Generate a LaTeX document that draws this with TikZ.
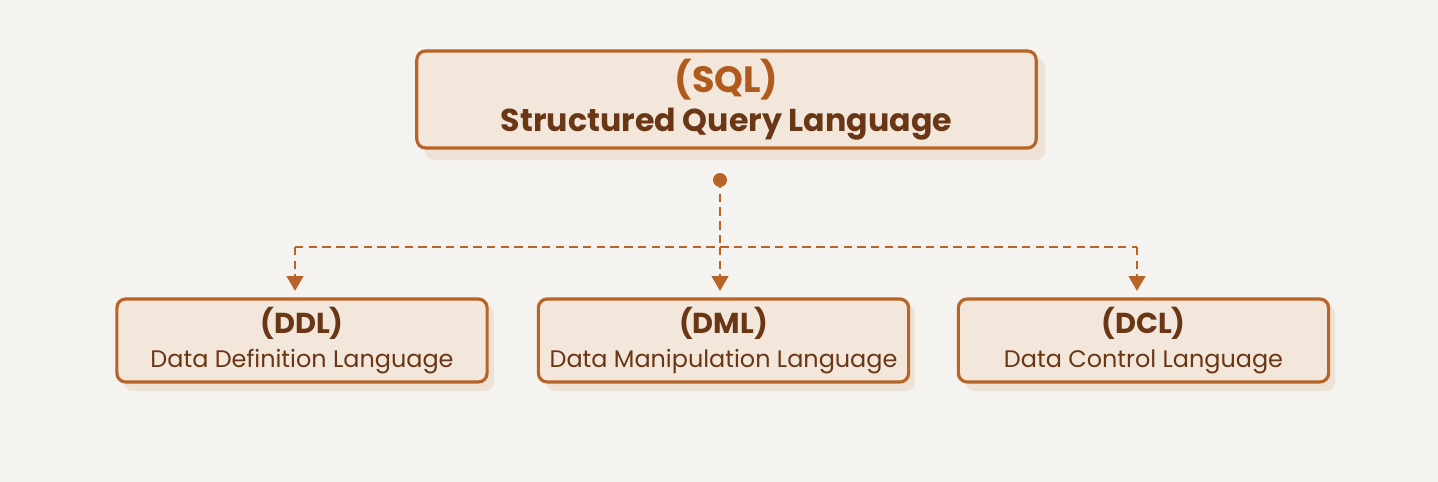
\documentclass[tikz,border=0pt]{standalone}
\usepackage{fontspec}
\setmainfont{Poppins}
\usetikzlibrary{arrows.meta,positioning}
\definecolor{paper}{RGB}{245,243,240}
\definecolor{boxfill}{RGB}{243,230,218}
\definecolor{boxshade}{RGB}{238,226,214}
\definecolor{rim}{RGB}{183,100,40}
\definecolor{abbr}{RGB}{176,90,30}
\definecolor{inkbrown}{RGB}{105,55,22}

\begin{document}
\begin{tikzpicture}[x=0.01cm,y=-0.01cm,
  langbox/.style={draw=rim,line width=0.9pt,rounded corners=2.5pt,fill=boxfill,align=center,
    inner sep=0pt},
  mainbox/.style={langbox,minimum width=6.19cm,minimum height=0.97cm},
  subbox/.style={langbox,minimum width=3.70cm,minimum height=0.83cm},
  link/.style={draw=rim,line width=0.85pt,dash pattern=on 2.4pt off 1.5pt},
  tip/.style={-{Triangle[length=4.2pt,width=4.6pt]}}]
% background and bounds
\fill[paper] (0,0) rectangle (1438,482);
\useasboundingbox (0,0) rectangle (1438,482);
% soft shadows
\fill[boxshade,rounded corners=2.5pt] (425,58) rectangle (1045,160);
\fill[boxshade,rounded corners=2.5pt] (124,305) rectangle (494,391);
\fill[boxshade,rounded corners=2.5pt] (546,305) rectangle (915,391);
\fill[boxshade,rounded corners=2.5pt] (966,305) rectangle (1335,391);
%
\node (sql) [mainbox] at (726.5,99.5)
  {\fontsize{10.4pt}{11pt}\selectfont\bfseries\textcolor{abbr}{(SQL)}\\[-1pt]
   \fontsize{9pt}{10pt}\selectfont\bfseries\textcolor{inkbrown}{Structured Query Language}};
\node (ddl) [subbox] at (302,340.5)
  {\fontsize{8.2pt}{8pt}\selectfont\bfseries\textcolor{inkbrown}{(DDL)}\\[-2.5pt]
   \fontsize{6.8pt}{8pt}\selectfont\textcolor{inkbrown}{Data Definition Language}};
\node (dml) [subbox] at (723.5,340.5)
  {\fontsize{8.2pt}{8pt}\selectfont\bfseries\textcolor{inkbrown}{(DML)}\\[-2.5pt]
   \fontsize{6.8pt}{8pt}\selectfont\textcolor{inkbrown}{Data Manipulation Language}};
\node (dcl) [subbox] at (1143.5,340.5)
  {\fontsize{8.2pt}{8pt}\selectfont\bfseries\textcolor{inkbrown}{(DCL)}\\[-2.5pt]
   \fontsize{6.8pt}{8pt}\selectfont\textcolor{inkbrown}{Data Control Language}};
%
\fill[rim] (720,180) circle (7);
\coordinate (hub) at (720,180);
\coordinate (split) at (720,247);
\coordinate (westend) at (295,247);
\coordinate (eastend) at (1137,247);
%
\path[link] (hub) -- (split);
\path[link,tip] (split) -- (720,291);
\path[link] (westend) -- (eastend);
\path[link,tip] (westend) -- (295,291);
\path[link,tip] (eastend) -- (1137,291);
\end{tikzpicture}
\end{document}
